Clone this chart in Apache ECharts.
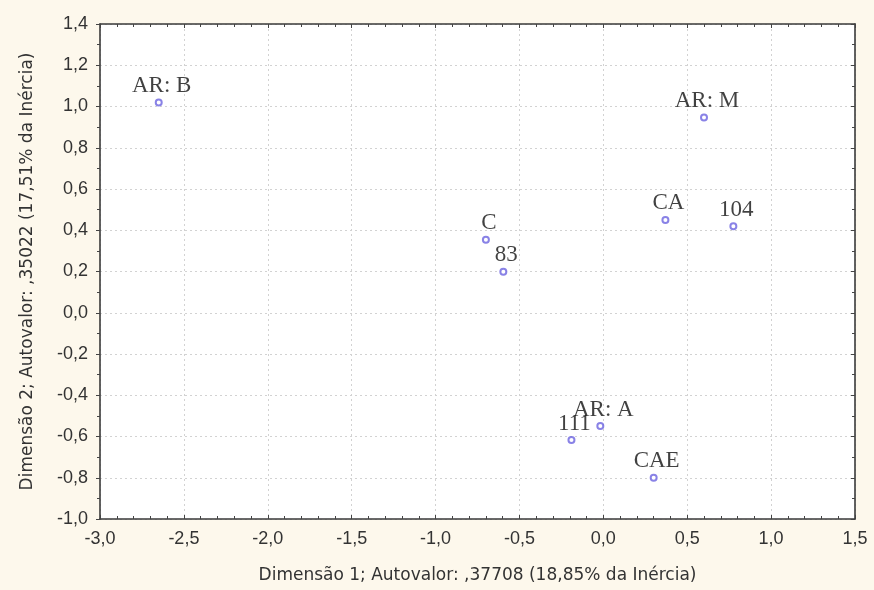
<!DOCTYPE html>
<html>
<head>
<meta charset="utf-8">
<script src="https://cdn.jsdelivr.net/npm/echarts@6/dist/echarts.min.js"></script>
<style>
html,body{margin:0;padding:0;background:#fdf8ec;}
#chart{width:874px;height:590px;}
</style>
</head>
<body>
<div id="chart"></div>
<script>
const pointNames = ["AR: B", "AR: M", "CA", "104", "C", "83", "AR: A", "111", "CAE"];
const dim1Values = [-2.65, 0.60, 0.37, 0.775, -0.70, -0.596, -0.018, -0.19, 0.30];
const dim2Values = [1.02, 0.947, 0.45, 0.42, 0.354, 0.199, -0.549, -0.617, -0.80];
const xAxisTitle = "Dimensão 1; Autovalor: ,37708 (18,85% da Inércia)";
const yAxisTitle = "Dimensão 2; Autovalor: ,35022 (17,51% da Inércia)";

const fmt = v => v.toFixed(1).replace('.', ',');
const chart = echarts.init(document.getElementById('chart'));
const frame = {show: true, onZero: false, lineStyle: {color: '#3a3a3a', width: 1.6}};
const grid = {show: true, lineStyle: {color: '#d2d2d2', type: [2, 3], width: 1}};
const tickLabel = {color: '#333', fontFamily: 'Liberation Sans', fontSize: 18};
const nameStyle = {color: '#333', fontFamily: 'DejaVu Sans', fontSize: 17};
const tickStyle = {color: '#444'};

chart.setOption({
  backgroundColor: '#fdf8ec',
  grid: {left: 100, right: 19, top: 24, bottom: 71, show: true, backgroundColor: '#ffffff', borderWidth: 0},
  xAxis: [
    {type: 'value', min: -3, max: 1.5, interval: 0.5, position: 'bottom',
     axisLine: frame, axisTick: {show: true, inside: true, length: 4, lineStyle: tickStyle},
     minorTick: {show: true, splitNumber: 5, length: 3, lineStyle: tickStyle},
     splitLine: grid,
     axisLabel: Object.assign({formatter: fmt, margin: 11}, tickLabel),
     name: xAxisTitle, nameLocation: 'middle', nameGap: 48, nameTextStyle: nameStyle},
    {type: 'value', min: -3, max: 1.5, interval: 0.5, position: 'top',
     axisLine: frame, axisTick: {show: true, inside: true, length: 4, lineStyle: tickStyle},
     minorTick: {show: true, splitNumber: 5, length: 3, lineStyle: tickStyle},
     splitLine: {show: false}, axisLabel: {show: false}}
  ],
  yAxis: [
    {type: 'value', min: -1, max: 1.4, interval: 0.2, position: 'left',
     axisLine: frame, axisTick: {show: true, length: 4, lineStyle: tickStyle},
     minorTick: {show: true, splitNumber: 2, length: 3, lineStyle: tickStyle},
     splitLine: grid,
     axisLabel: Object.assign({formatter: fmt, margin: 12}, tickLabel),
     name: yAxisTitle, nameLocation: 'middle', nameGap: 64, nameRotate: 90, nameTextStyle: nameStyle},
    {type: 'value', min: -1, max: 1.4, interval: 0.2, position: 'right',
     axisLine: frame, axisTick: {show: true, inside: true, length: 4, lineStyle: tickStyle},
     minorTick: {show: true, splitNumber: 2, length: 3, lineStyle: tickStyle},
     splitLine: {show: false}, axisLabel: {show: false}}
  ],
  series: [{
    type: 'scatter',
    xAxisIndex: 0, yAxisIndex: 0,
    symbol: 'emptyCircle', symbolSize: 6,
    itemStyle: {color: '#6b63e0', borderColor: '#6b63e0', borderWidth: 1.3},
    label: {show: true, position: 'top', distance: 1, offset: [3, 0],
      formatter: p => p.data[2],
      color: '#111', fontFamily: 'Liberation Serif', fontSize: 23},
    data: pointNames.map((n, i) => [dim1Values[i], dim2Values[i], n])
  }]
});
</script>
</body>
</html>
